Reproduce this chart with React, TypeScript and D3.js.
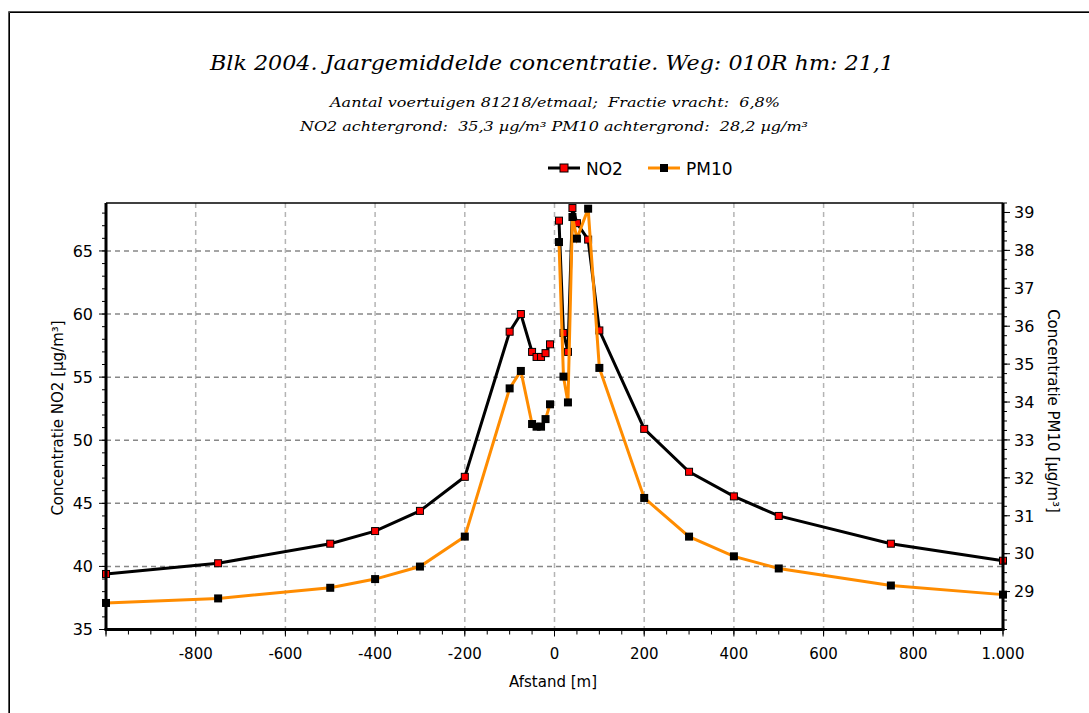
import React from "react";
import * as d3 from "d3";

const distance = [-1000, -750, -500, -400, -300, -200, -100, -75, -50, -40, -30, -20, -10, 10, 20, 30, 40, 50, 75, 100, 200, 300, 400, 500, 750, 1000];
const no2 = [39.4, 40.25, 41.8, 42.8, 44.4, 47.1, 58.6, 60.0, 57.0, 56.6, 56.6, 56.9, 57.6, 67.4, 58.5, 57.0, 68.4, 67.2, 65.9, 58.7, 50.9, 47.5, 45.55, 44.0, 41.8, 40.45];
const pm10 = [28.7, 28.82, 29.1, 29.33, 29.66, 30.45, 34.36, 34.82, 33.42, 33.35, 33.35, 33.55, 33.94, 38.22, 34.67, 33.99, 38.88, 38.31, 39.1, 34.9, 31.47, 30.45, 29.93, 29.61, 29.16, 28.92];

const xTicks = [-800, -600, -400, -200, 0, 200, 400, 600, 800, 1000];
const leftTicks = [35, 40, 45, 50, 55, 60, 65];
const rightTicks = [29, 30, 31, 32, 33, 34, 35, 36, 37, 38, 39];

const title = "Blk 2004. Jaargemiddelde concentratie. Weg: 010R hm: 21,1";
const sub1 = "Aantal voertuigen 81218/etmaal;  Fractie vracht:  6,8%";
const sub2 = "NO2 achtergrond:  35,3 µg/m³ PM10 achtergrond:  28,2 µg/m³";

const L = 106, R = 1003, T = 203, B = 629.5;

export default function App() {
  const x = d3.scaleLinear().domain([-1000, 1000]).range([L, R]);
  const yL = d3.scaleLinear().domain([35, 68.8]).range([B, T]);
  const yR = d3.scaleLinear().domain([28, 39.25]).range([B, T]);

  const no2Pts = distance.map((d, i) => ({ d, v: no2[i] }));
  const pmPts = distance.map((d, i) => ({ d, v: pm10[i] }));

  const lineL = d3
    .line<{ d: number; v: number }>()
    .x((p) => x(p.d))
    .y((p) => yL(p.v));
  const lineR = d3
    .line<{ d: number; v: number }>()
    .x((p) => x(p.d))
    .y((p) => yR(p.v));
  const left = (arr: { d: number; v: number }[]) => arr.filter((p) => p.d < 0);
  const right = (arr: { d: number; v: number }[]) => arr.filter((p) => p.d > 0);

  const xMinor = d3.range(-1000, 1001, 50);
  const xMajor = d3.range(-1000, 1001, 200);
  const lMinor = d3.range(35, 69, 1);
  const rMinor = d3.range(28, 39.26, 0.25);

  const tickFont = "'DejaVu Sans', sans-serif";

  return (
    <svg
      width={1089}
      height={713}
      style={{ position: "absolute", left: 0, top: 0, background: "#fff" }}
    >
      <rect x={0} y={0} width={1089} height={713} fill="#fff" />
      <path d="M8.5,720 V11.5 H1100" fill="none" stroke="#555" strokeWidth={1} />
      <path d="M9.5,720 V12.5 H1100" fill="none" stroke="#000" strokeWidth={1} />

      <text
        x={552}
        y={70}
        textAnchor="middle"
        fontFamily="'DejaVu Serif', serif"
        fontStyle="italic"
        fontSize={21}
        textLength={684}
        lengthAdjust="spacingAndGlyphs"
        fill="#000"
      >
        {title}
      </text>
      <text
        x={555}
        y={107}
        textAnchor="middle"
        fontFamily="'DejaVu Serif', serif"
        fontStyle="italic"
        fontSize={13}
        textLength={450}
        lengthAdjust="spacingAndGlyphs"
        style={{ whiteSpace: "pre" }}
      >
        {sub1}
      </text>
      <text
        x={554}
        y={131}
        textAnchor="middle"
        fontFamily="'DejaVu Serif', serif"
        fontStyle="italic"
        fontSize={13}
        textLength={508}
        lengthAdjust="spacingAndGlyphs"
        style={{ whiteSpace: "pre" }}
      >
        {sub2}
      </text>

      <g>
        <line x1={548} x2={580} y1={168} y2={168} stroke="#000" strokeWidth={3} />
        <rect x={560} y={164} width={8} height={8} fill="#f00" stroke="#000" strokeWidth={1} />
        <text x={586} y={174.5} fontFamily={tickFont} fontSize={17}>NO2</text>
        <line x1={648} x2={680} y1={168} y2={168} stroke="#ff8c00" strokeWidth={3} />
        <rect x={660} y={164} width={8} height={8} fill="#000" />
        <text x={686} y={174.5} fontFamily={tickFont} fontSize={17}>PM10</text>
      </g>

      {xTicks
        .filter((t) => t > -1000 && t < 1000)
        .map((t) => (
          <line
            key={"gx" + t}
            x1={x(t)}
            x2={x(t)}
            y1={T}
            y2={B}
            stroke="#b4b4b4"
            strokeWidth={1.5}
            strokeDasharray="5,4"
          />
        ))}
      {leftTicks
        .filter((t) => t > 35)
        .map((t) => (
          <line
            key={"gy" + t}
            x1={L}
            x2={R}
            y1={yL(t)}
            y2={yL(t)}
            stroke="#888"
            strokeWidth={1.5}
            strokeDasharray="5,4"
          />
        ))}

      <g>
        {[left(no2Pts), right(no2Pts)].map((seg, i) => (
          <path key={"nl" + i} d={lineL(seg) || ""} fill="none" stroke="#000" strokeWidth={3} />
        ))}
        {no2Pts.map((p, i) => (
          <rect
            key={"nm" + i}
            x={x(p.d) - 3.5}
            y={yL(p.v) - 3.5}
            width={7}
            height={7}
            fill="#f00"
            stroke="#000"
            strokeWidth={1}
          />
        ))}
        {[left(pmPts), right(pmPts)].map((seg, i) => (
          <path key={"pl" + i} d={lineR(seg) || ""} fill="none" stroke="#ff8c00" strokeWidth={3} />
        ))}
        {pmPts.map((p, i) => (
          <rect
            key={"pm" + i}
            x={x(p.d) - 4}
            y={yR(p.v) - 4}
            width={8}
            height={8}
            fill="#000"
          />
        ))}
      </g>

      <line x1={L} x2={R} y1={T} y2={T} stroke="#000" strokeWidth={1.5} />
      <line x1={L} x2={L} y1={T} y2={B} stroke="#000" strokeWidth={3} />
      <line x1={R} x2={R} y1={T} y2={B} stroke="#000" strokeWidth={3} />
      <line x1={L - 1.5} x2={R + 1.5} y1={B} y2={B} stroke="#000" strokeWidth={3} />

      {xMinor.map((t) => (
        <line key={"xm" + t} x1={x(t)} x2={x(t)} y1={B} y2={B + 5} stroke="#000" strokeWidth={1} />
      ))}
      {xMajor.map((t) => (
        <line key={"xM" + t} x1={x(t)} x2={x(t)} y1={B} y2={B + 7} stroke="#000" strokeWidth={1} />
      ))}
      {xTicks.map((t) => (
        <text
          key={"xl" + t}
          x={x(t)}
          y={659}
          textAnchor="middle"
          fontFamily={tickFont}
          fontSize={15}
        >
          {t === 1000 ? "1.000" : String(t)}
        </text>
      ))}
      <text x={553} y={687} textAnchor="middle" fontFamily={tickFont} fontSize={15}>
        Afstand [m]
      </text>

      {lMinor.map((t) => (
        <line key={"lm" + t} x1={L - 4} x2={L} y1={yL(t)} y2={yL(t)} stroke="#000" strokeWidth={1} />
      ))}
      {leftTicks.map((t) => (
        <g key={"lt" + t}>
          <line x1={L - 7} x2={L} y1={yL(t)} y2={yL(t)} stroke="#000" strokeWidth={1} />
          <text
            x={93}
            y={yL(t)}
            dy="0.36em"
            textAnchor="end"
            fontFamily={tickFont}
            fontSize={16}
          >
            {t}
          </text>
        </g>
      ))}
      <text
        transform={`translate(58,418) rotate(-90)`}
        textAnchor="middle"
        dominantBaseline="central"
        fontFamily={tickFont}
        fontSize={15}
      >
        Concentratie NO2 [µg/m³]
      </text>

      {rMinor.map((t) => (
        <line key={"rm" + t} x1={R} x2={R + 4} y1={yR(t)} y2={yR(t)} stroke="#000" strokeWidth={1} />
      ))}
      {rightTicks.map((t) => (
        <g key={"rt" + t}>
          <line x1={R} x2={R + 7} y1={yR(t)} y2={yR(t)} stroke="#000" strokeWidth={1} />
          <text
            x={1014}
            y={yR(t)}
            dy="0.36em"
            textAnchor="start"
            fontFamily={tickFont}
            fontSize={16}
          >
            {t}
          </text>
        </g>
      ))}
      <text
        transform={`translate(1053,411) rotate(90)`}
        textAnchor="middle"
        dominantBaseline="central"
        fontFamily={tickFont}
        fontSize={15}
      >
        Concentratie PM10 [µg/m³]
      </text>
    </svg>
  );
}
